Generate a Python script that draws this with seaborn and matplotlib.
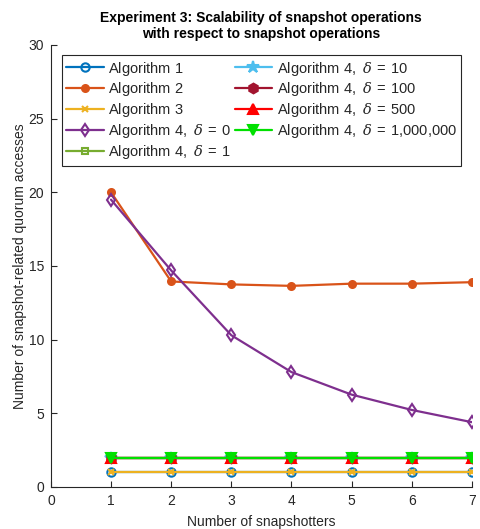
import numpy as np
import pandas as pd
import seaborn as sns
import matplotlib.pyplot as plt

snapshotters = [1, 2, 3, 4, 5, 6, 7]
algo1 = [1, 1, 1, 1, 1, 1, 1]
algo2 = [20.0, 13.95, 13.75, 13.65, 13.8, 13.8, 13.9]
algo3 = [1, 1, 1, 1, 1, 1, 1]
algo4_d0 = [19.5, 14.7, 10.3, 7.8, 6.27, 5.23, 4.4]
algo4_d1 = [2, 2, 2, 2, 2, 2, 2]
algo4_d10 = [2, 2, 2, 2, 2, 2, 2]
algo4_d100 = [2, 2, 2, 2, 2, 2, 2]
algo4_d500 = [2, 2, 2, 2, 2, 2, 2]
algo4_d1m = [2, 2, 2, 2, 2, 2, 2]

deltas = ["0", "1", "10", "100", "500", "1{,}000{,}000"]
names = [r"$\mathrm{Algorithm\ 1}$", r"$\mathrm{Algorithm\ 2}$", r"$\mathrm{Algorithm\ 3}$"]
names += [r"$\mathrm{Algorithm\ 4,}\ \delta\,=\,\mathrm{" + d + "}$" for d in deltas]
series = [algo1, algo2, algo3, algo4_d0, algo4_d1, algo4_d10, algo4_d100,
          algo4_d500, algo4_d1m]
colors = ["#0072BD", "#D95319", "#EDB120", "#7E2F8E", "#77AC30",
          "#4DBEEE", "#A2142F", "#FF0000", "#00E000"]
markers = ["o", "o", "x", "d", "s", "*", "h", "^", "v"]
msizes = [6, 5, 4, 6, 5, 9, 7, 7, 7]
filled = [False, True, True, False, False, True, True, True, True]

sns.set_style("ticks")
plt.rcParams["font.family"] = ["Liberation Sans", "DejaVu Sans"]
plt.rcParams["mathtext.fontset"] = "custom"
plt.rcParams["mathtext.rm"] = "Liberation Sans"
plt.rcParams["mathtext.it"] = "DejaVu Serif:italic"

fig = plt.figure(figsize=(4.8, 5.29), dpi=100)
ax = fig.add_axes([0.106, 0.0794, 0.877, 0.8356])

for name, ys, c, m, ms, f in zip(names, series, colors, markers, msizes, filled):
    df = pd.DataFrame({"x": snapshotters, "y": ys})
    sns.lineplot(data=df, x="x", y="y", ax=ax, color=c, marker=m, markersize=ms,
                 linewidth=1.6, label=name, markeredgecolor=c,
                 markerfacecolor=c if f else "none", markeredgewidth=1.5)

ax.set_xlim(0, 7)
ax.set_ylim(0, 30)
ax.set_xticks(range(0, 8))
ax.set_yticks(range(0, 31, 5))
ax.tick_params(direction="in", length=4, labelsize=10, colors="#262626", pad=5)
for s in ["top", "right"]:
    ax.spines[s].set_visible(False)
for s in ["left", "bottom"]:
    ax.spines[s].set_color("#262626")
    ax.spines[s].set_linewidth(0.8)

ax.set_xlabel("Number of snapshotters", fontsize=10, color="#262626", labelpad=5)
ax.set_ylabel("Number of snapshot-related quorum accesses", fontsize=10,
              color="#262626", labelpad=1)
ax.set_title("Experiment 3: Scalability of snapshot operations\nwith respect to snapshot operations",
             fontsize=10, fontweight="bold", color="black", pad=5)

leg = ax.legend(loc="upper left", bbox_to_anchor=(0.026, 0.977), borderaxespad=0,
                ncol=2, fontsize=10.5, fancybox=False, edgecolor="#262626",
                handlelength=2.6, columnspacing=0.2, labelspacing=0.2,
                handletextpad=0.3, borderpad=0.3, framealpha=1)
leg.get_frame().set_linewidth(0.8)

fig.savefig("out.png", dpi=100)
